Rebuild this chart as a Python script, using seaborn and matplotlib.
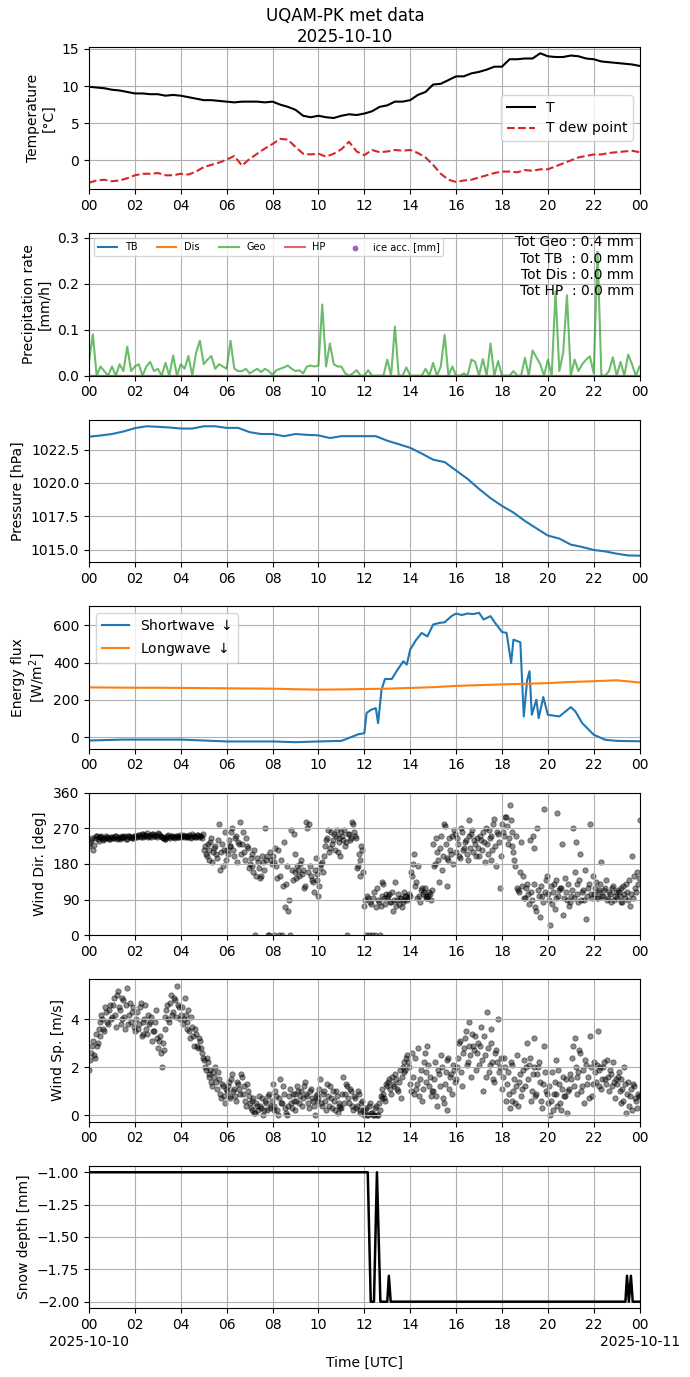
import numpy as np
import pandas as pd
import matplotlib
matplotlib.use("Agg")
import matplotlib.pyplot as plt
import seaborn as sns


# --------------------------------------------------
# Data
# --------------------------------------------------

day = pd.Timestamp("2025-10-10")

# temperature, every 20 min
temp_c = [
    9.9, 9.8, 9.7, 9.5, 9.4, 9.2, 9.0, 9.0, 8.9, 8.9, 8.7, 8.8,
    8.7, 8.5, 8.3, 8.1, 8.1, 8.0, 7.9, 7.8, 7.9, 7.9, 7.9, 7.8,
    7.9, 7.5, 7.2, 6.8, 6.0, 5.8, 6.0, 5.8, 5.7, 6.0, 6.2, 6.1,
    6.3, 6.6, 7.2, 7.4, 7.9, 7.9, 8.1, 8.8, 9.2, 10.2, 10.3, 10.8,
    11.3, 11.3, 11.7, 11.9, 12.2, 12.6, 12.6, 13.6, 13.6, 13.7, 13.7, 14.4,
    14.0, 13.9, 13.9, 14.1, 14.0, 13.7, 13.6, 13.3, 13.2, 13.1, 13.0, 12.9,
    12.7,
]
dew_point_c = [
    -3.0, -2.7, -2.6, -2.8, -2.7, -2.4, -2.0, -1.8, -1.8, -1.7, -2.0, -2.0,
    -1.8, -1.9, -1.5, -0.9, -0.6, -0.3, 0.1, 0.6, -0.7, 0.2, 0.9, 1.6,
    2.2, 2.9, 2.8, 1.8, 0.9, 0.8, 0.9, 0.5, 0.9, 1.5, 2.5, 1.2,
    0.7, 1.4, 1.1, 1.2, 1.4, 1.3, 1.4, 1.0, 0.4, -0.6, -1.8, -2.6,
    -2.9, -2.7, -2.6, -2.3, -2.0, -1.7, -1.5, -1.5, -1.6, -1.3, -1.4, -1.2,
    -1.2, -0.8, -0.4, 0.0, 0.4, 0.6, 0.8, 0.8, 1.0, 1.1, 1.2, 1.3,
    1.1,
]

# precipitation rate, every 10 min
geo_rate = [
    0.03, 0.09, 0.0, 0.02, 0.01, 0.0,
    0.02, 0.0, 0.025, 0.01, 0.063, 0.01,
    0.02, 0.025, 0.0, 0.02, 0.03, 0.01,
    0.015, 0.0, 0.028, 0.0, 0.044, 0.0,
    0.025, 0.015, 0.043, 0.0, 0.05, 0.076,
    0.025, 0.035, 0.043, 0.015, 0.025, 0.02,
    0.015, 0.076, 0.015, 0.01, 0.01, 0.015,
    0.005, 0.01, 0.015, 0.008, 0.015, 0.01,
    0.002, 0.012, 0.015, 0.018, 0.022, 0.015,
    0.01, 0.012, 0.005, 0.02, 0.022, 0.02,
    0.022, 0.155, 0.02, 0.07, 0.025, 0.02,
    0.02, 0.005, 0.0, 0.005, 0.012, 0.0,
    0.0, 0.012, 0.0, 0.0, 0.0, 0.0,
    0.035, 0.0, 0.107, 0.0, 0.0, 0.018,
    0.0, 0.0, 0.0, 0.0, 0.015, 0.0,
    0.028, 0.0, 0.02, 0.089, 0.0, 0.02,
    0.0, 0.0, 0.005, 0.0, 0.035, 0.03,
    0.0, 0.036, 0.0, 0.07, 0.0, 0.032,
    0.0, 0.0, 0.0, 0.01, 0.0, 0.0,
    0.039, 0.0, 0.055, 0.04, 0.025, 0.0,
    0.035, 0.0, 0.183, 0.01, 0.05, 0.175,
    0.0, 0.035, 0.01, 0.025, 0.035, 0.042,
    0.005, 0.27, 0.0, 0.0, 0.01, 0.04,
    0.0, 0.03, 0.0, 0.046, 0.025, 0.0,
    0.02,
]
tb_rate = [0.0] * 25
dis_rate = [0.0] * 25
hp_rate = [0.0] * 25
ice_hours = []
ice_mm = []
totals_text = "Tot Geo : 0.4 mm\nTot TB  : 0.0 mm\nTot Dis : 0.0 mm\nTot HP  : 0.0 mm"

# pressure, every 30 min
pressure_hpa = [
    1023.46, 1023.55, 1023.66, 1023.85, 1024.1, 1024.24, 1024.2, 1024.15,
    1024.07, 1024.07, 1024.24, 1024.24, 1024.12, 1024.12, 1023.8, 1023.66,
    1023.66, 1023.5, 1023.66, 1023.6, 1023.56, 1023.36, 1023.5, 1023.5,
    1023.5, 1023.5, 1023.16, 1022.9, 1022.63, 1022.2, 1021.74, 1021.56,
    1020.93, 1020.3, 1019.55, 1018.86, 1018.28, 1017.78, 1017.15, 1016.6,
    1016.06, 1015.83, 1015.38, 1015.2, 1014.98, 1014.87, 1014.7, 1014.57,
    1014.55,
]

# radiation
sw_hours = [
    0, 1.5, 4, 6, 8, 9, 10, 11, 11.5, 11.75,
    12, 12.1, 12.3, 12.5, 12.6, 12.75, 12.9, 13.2, 13.4, 13.7,
    13.85, 14, 14.25, 14.5, 14.75, 15, 15.25, 15.5, 15.8, 16,
    16.25, 16.5, 16.75, 17, 17.2, 17.5, 17.7, 18, 18.2, 18.4,
    18.5, 18.8, 18.95, 19.1, 19.2, 19.3, 19.5, 19.6, 19.8, 20,
    20.5, 21, 21.2, 21.5, 22, 22.5, 23, 24,
]
shortwave = [
    -18, -13, -13, -23, -23, -27, -23, -20, 4, 16,
    21, 130, 147, 156, 75, 254, 312, 312, 353, 407,
    389, 470, 520, 559, 540, 604, 612, 616, 649, 663,
    655, 663, 660, 667, 631, 649, 613, 564, 559, 398,
    523, 509, 111, 308, 353, 120, 201, 102, 215, 120,
    111, 161, 138, 75, 13, -14, -20, -22,
]
# hourly
longwave = [
    267, 266, 265, 265, 264, 263, 262, 261, 260, 257, 255, 256, 258,
    260, 264, 268, 275, 279, 283, 286, 290, 296, 300, 305, 293,
]

# wind, every 5 min from 00:00
wind_dir = [
    225, 240, 215, 245, 250, 238, 248, 245, 242, 250, 246, 244,
    248, 245, 250, 246, 243, 249, 247, 252, 244, 250, 248, 246,
    251, 247, 253, 249, 255, 250, 252, 248, 254, 256, 250, 253,
    258, 252, 249, 245, 243, 250, 247, 252, 248, 246, 251, 249,
    248, 253, 250, 247, 252, 249, 255, 251, 248, 253, 250, 246,
    215, 205, 230, 190, 245, 210, 225, 195, 280, 210, 175, 260,
    215, 240, 225, 270, 200, 250, 235, 285, 230, 210, 245, 220,
    180, 205, 160, 0, 195, 170, 150, 185, 270, 200, 0, 190,
    200, 0, 175, 215, 150, 0, 235, 130, 60, 0, 165, 255,
    160, 175, 150, 190, 165, 125, 270, 280, 150, 135, 165, 140,
    100, 170, 185, 200, 240, 265, 220, 230, 255, 250, 210, 245,
    260, 240, 225, 0, 255, 245, 280, 250, 170, 205, 150, 215,
    75, 0, 95, 85, 0, 110, 70, 90, 0, 100, 130, 80,
    95, 105, 85, 60, 135, 90, 80, 95, 85, 90, 100, 95,
    100, 150, 205, 135, 175, 85, 120, 110, 100, 95, 110, 90,
    230, 180, 210, 135, 250, 200, 275, 125, 190, 215, 250, 265,
    210, 230, 195, 260, 220, 240, 190, 290, 255, 210, 230, 245,
    200, 240, 260, 185, 230, 265, 250, 215, 295, 175, 255, 120,
    280, 250, 300, 230, 330, 260, 210, 175, 120, 110, 235, 150,
    95, 130, 80, 110, 250, 220, 60, 115, 45, 100, 320, 140,
    105, 25, 80, 130, 95, 310, 115, 120, 50, 145, 90, 75,
    100, 270, 160, 130, 85, 205, 110, 90, 40, 120, 280, 95,
    105, 135, 95, 115, 185, 100, 120, 90, 110, 85, 125, 100,
    95, 110, 120, 85, 105, 130, 90, 75, 200, 150, 110, 130,
    290,
]
wind_speed = [
    1.9, 2.6, 3.1, 2.4, 2.9, 3.6, 3.3, 4.0, 3.5, 4.3, 3.8, 4.6,
    4.1, 4.9, 3.7, 5.2, 4.4, 4.0, 4.8, 3.6, 5.3, 4.2, 3.9, 4.5,
    3.5, 4.3, 3.8, 4.7, 3.4, 4.0, 3.6, 4.2, 3.9, 3.1, 3.5, 4.4,
    2.8, 3.3, 2.0, 2.7, 4.1, 4.6, 3.9, 5.0, 4.3, 4.8, 5.4, 4.5,
    4.2, 3.8, 4.9, 3.6, 4.4, 3.2, 3.7, 2.9, 3.4, 2.8, 3.1, 2.6,
    2.3, 1.9, 2.2, 1.6, 1.4, 1.8, 2.0, 1.1, 1.5, 0.7, 1.2, 0.5,
    1.0, 1.4, 0.8, 1.7, 1.1, 0.6, 1.3, 0.9, 1.6, 1.2, 0.4, 1.0,
    0.5, 0.2, 0.7, 0.1, 0.4, 0.8, 0.3, 0.0, 0.6, 0.2, 0.9, 0.4,
    1.3, 0.2, 0.8, 0.0, 1.5, 0.5, 0.9, 0.1, 0.4, 1.1, 0.3, 0.6,
    0.9, 1.2, 0.5, 1.0, 0.7, 1.4, 0.8, 0.3, 1.1, 0.6, 0.0, 0.9,
    0.7, 1.5, 0.4, 1.0, 0.2, 0.8, 1.2, 0.3, 0.6, 1.0, 0.1, 0.5,
    0.3, 1.6, 0.9, 1.2, 0.5, 1.0, 0.2, 0.7, 0.4, 0.9, 0.1, 0.6,
    0.0, 0.3, 0.0, 0.5, 0.1, 0.0, 0.4, 0.0, 0.2, 0.7, 0.9, 0.6,
    1.2, 1.5, 0.9, 1.3, 1.7, 1.1, 1.4, 0.7, 2.0, 1.8, 2.4, 2.2,
    1.3, 2.6, 0.9, 1.1, 2.8, 1.5, 0.6, 2.2, 1.8, 2.9, 1.2, 0.8,
    1.0, 2.2, 0.4, 1.7, 2.5, 0.7, 1.3, 0.2, 2.4, 1.6, 0.9, 1.9,
    1.5, 2.4, 3.1, 1.2, 2.8, 3.5, 2.2, 3.9, 1.6, 2.9, 3.3, 2.6,
    2.1, 3.7, 1.0, 2.5, 4.3, 1.8, 3.0, 2.2, 1.4, 2.7, 4.0, 2.0,
    1.1, 2.4, 0.6, 1.8, 0.3, 2.1, 1.0, 0.5, 2.5, 1.4, 0.8, 1.9,
    1.2, 3.0, 2.1, 0.6, 1.7, 3.2, 0.9, 2.0, 1.4, 0.3, 2.9, 1.0,
    0.5, 0.0, 1.8, 0.9, 2.3, 0.4, 1.3, 0.2, 1.6, 0.8, 0.1, 1.1,
    1.5, 2.9, 3.2, 0.9, 1.8, 2.6, 1.2, 0.5, 2.1, 1.6, 3.3, 0.8,
    2.2, 1.4, 3.5, 1.9, 1.1, 2.0, 1.5, 2.3, 1.0, 1.7, 2.2, 0.7,
    1.3, 1.8, 0.5, 1.1, 2.0, 0.1, 1.4, 0.8, 0.2, 1.2, 0.6, 0.9,
    0.8,
]

# wind, every 5 min from 00:02:30
wind_dir_b = [
    232, 245, 228, 250, 243, 247, 251, 240, 246, 249, 243, 247,
    246, 251, 244, 249, 245, 252, 248, 243, 250, 247, 245, 251,
    249, 254, 250, 257, 248, 253, 259, 251, 249, 255, 252, 247,
    255, 250, 246, 242, 248, 253, 245, 250, 247, 252, 249, 254,
    250, 247, 252, 248, 254, 246, 251, 249, 253, 247, 252, 255,
    225, 200, 215, 235, 185, 220, 205, 240, 165, 230, 215, 190,
    205, 225, 260, 215, 245, 185, 230, 205, 260, 190, 225, 170,
    195, 175, 215, 150, 185, 145, 200, 165, 190, 0, 210, 180,
    185, 220, 145, 0, 190, 125, 70, 175, 90, 265, 140, 205,
    145, 165, 180, 155, 120, 285, 160, 175, 140, 110, 195, 155,
    125, 180, 160, 225, 245, 210, 260, 240, 215, 265, 235, 200,
    250, 265, 235, 255, 240, 285, 260, 245, 175, 190, 225, 160,
    90, 100, 0, 80, 95, 0, 120, 85, 75, 135, 95, 105,
    100, 85, 110, 90, 75, 105, 95, 70, 110, 100, 90, 105,
    160, 180, 125, 95, 100, 115, 105, 120, 95, 100, 105, 115,
    175, 245, 190, 220, 165, 280, 230, 195, 245, 205, 180, 255,
    245, 200, 270, 215, 235, 205, 250, 220, 265, 240, 200, 220,
    250, 215, 235, 270, 205, 245, 190, 280, 225, 260, 235, 200,
    260, 300, 275, 245, 290, 225, 190, 250, 115, 160, 125, 95,
    120, 105, 240, 90, 130, 70, 270, 100, 125, 85, 110, 150,
    90, 125, 110, 65, 140, 100, 120, 230, 95, 110, 130, 85,
    115, 95, 235, 105, 140, 90, 115, 165, 100, 130, 105, 150,
    120, 95, 110, 130, 100, 115, 140, 95, 105, 120, 90, 110,
    115, 100, 85, 125, 95, 110, 140, 105, 95, 120, 160, 145,
]
wind_speed_b = [
    2.3, 2.9, 2.5, 3.4, 3.0, 3.9, 4.2, 3.6, 4.5, 3.9, 4.4, 4.0,
    4.6, 4.2, 5.0, 4.5, 3.8, 4.9, 4.1, 4.6, 3.8, 4.7, 4.3, 3.7,
    4.0, 3.6, 4.5, 3.3, 3.9, 4.6, 3.4, 3.8, 4.1, 3.5, 3.9, 3.2,
    3.1, 2.6, 3.0, 3.6, 4.4, 4.0, 4.7, 4.2, 4.9, 4.1, 4.6, 4.0,
    4.5, 4.0, 4.2, 3.9, 3.5, 4.1, 3.3, 3.6, 2.9, 3.2, 2.8, 2.4,
    2.0, 2.4, 1.7, 1.9, 1.2, 1.6, 1.4, 1.8, 0.9, 1.3, 0.8, 1.1,
    1.2, 0.7, 1.5, 1.0, 0.8, 1.4, 1.1, 1.7, 0.9, 0.6, 1.3, 0.8,
    0.3, 0.6, 0.1, 0.5, 0.2, 0.4, 0.7, 0.2, 0.5, 0.8, 0.3, 0.6,
    0.4, 1.0, 0.2, 0.7, 0.5, 1.2, 0.3, 0.0, 0.8, 0.5, 0.9, 0.2,
    0.6, 1.0, 0.8, 0.4, 1.2, 0.9, 0.5, 1.0, 0.7, 0.4, 0.8, 0.6,
    1.1, 0.5, 0.9, 0.6, 1.3, 0.4, 0.7, 1.0, 0.2, 0.8, 0.4, 0.3,
    0.9, 0.5, 1.3, 0.7, 1.1, 0.4, 0.8, 0.3, 1.0, 0.2, 0.5, 0.2,
    0.2, 0.0, 0.4, 0.1, 0.0, 0.3, 0.0, 0.5, 0.8, 1.1, 0.7, 1.3,
    1.4, 1.1, 1.6, 1.2, 1.5, 1.0, 1.9, 1.6, 2.2, 1.9, 2.5, 2.0,
    1.0, 1.6, 2.4, 1.3, 0.8, 1.9, 1.1, 2.6, 1.4, 2.1, 1.6, 1.0,
    1.5, 0.8, 1.9, 1.2, 2.0, 0.5, 1.8, 2.3, 1.1, 1.7, 2.1, 1.4,
    2.0, 3.0, 1.8, 2.6, 3.2, 2.1, 2.9, 2.5, 3.4, 2.7, 1.9, 3.0,
    2.9, 2.3, 3.3, 1.6, 2.8, 2.1, 3.6, 1.5, 2.6, 2.2, 1.8, 2.4,
    1.6, 2.0, 1.3, 0.9, 2.2, 0.6, 1.5, 1.2, 0.4, 1.7, 1.1, 2.3,
    2.0, 1.5, 2.4, 1.0, 2.0, 0.8, 1.7, 2.2, 0.6, 1.3, 1.8, 0.9,
    1.2, 0.6, 0.2, 1.4, 0.9, 1.9, 0.5, 1.1, 0.8, 1.5, 1.0, 1.7,
    2.4, 1.2, 2.0, 1.6, 2.7, 1.0, 1.9, 2.3, 1.3, 0.7, 2.0, 1.3,
    1.8, 2.1, 1.2, 2.0, 1.5, 2.2, 1.3, 1.6, 1.9, 1.2, 1.4, 1.5,
    1.6, 1.0, 1.5, 0.6, 1.3, 0.9, 0.4, 1.1, 1.3, 0.7, 0.3, 0.8,
]

# snow depth
snow_hours = [0, 12.15, 12.28, 12.42, 12.55, 12.7, 13.0, 13.07, 13.15,
              23.38, 23.45, 23.53, 23.62, 23.7, 24]
snow_mm = [-1.0, -1.0, -2.0, -2.0, -1.0, -2.0, -2.0, -1.8, -2.0,
           -2.0, -1.8, -2.0, -1.8, -2.0, -2.0]


def at_hours(hours):
    return day + pd.to_timedelta(np.asarray(hours, dtype=float), unit="h")


def grid(values, step_hours, start=0.0):
    return at_hours(start + np.arange(len(values)) * step_hours)


# --------------------------------------------------
# Figure
# --------------------------------------------------

fig, axes = plt.subplots(7, 1, figsize=(6.9, 13.77), dpi=100)
fig.subplots_adjust(left=0.129, right=0.927, top=0.966, bottom=0.05, hspace=0.31)
fig.suptitle("UQAM-PK met data\n2025-10-10", y=0.995, fontsize=12)

# temperature
ax = axes[0]
sns.lineplot(x=grid(temp_c, 1 / 3), y=temp_c, ax=ax, color="black",
             linewidth=1.5, label="T")
sns.lineplot(x=grid(dew_point_c, 1 / 3), y=dew_point_c, ax=ax,
             color="tab:red", linestyle="--", linewidth=1.5, label="T dew point")
ax.set_yticks([0, 5, 10, 15])
ax.set_ylabel("Temperature\n[°C]")
ax.legend(loc="center right")

# precipitation
ax = axes[1]
sns.lineplot(x=grid(tb_rate, 1), y=tb_rate, ax=ax, color="tab:blue", label="TB")
sns.lineplot(x=grid(dis_rate, 1), y=dis_rate, ax=ax, color="tab:orange", label="Dis")
sns.lineplot(x=grid(geo_rate, 1 / 6), y=geo_rate, ax=ax, color="tab:green",
             alpha=0.7, label="Geo")
sns.lineplot(x=grid(hp_rate, 1), y=hp_rate, ax=ax, color="tab:red",
             alpha=0.7, label="HP")
ax.scatter(at_hours(ice_hours), ice_mm, color="tab:purple", s=10,
           label="ice acc. [mm]")
ax.set_ylim(0, 0.31)
ax.set_yticks([0.0, 0.1, 0.2, 0.3])
ax.set_ylabel("Precipitation rate\n[mm/h]")
ax.legend(loc="upper left", ncol=5, fontsize=7)
ax.text(0.99, 0.985, totals_text, transform=ax.transAxes, ha="right",
        va="top", multialignment="right", fontsize=10)

# pressure
ax = axes[2]
sns.lineplot(x=grid(pressure_hpa, 0.5), y=pressure_hpa, ax=ax, color="tab:blue")
ax.set_yticks([1015.0, 1017.5, 1020.0, 1022.5])
ax.set_ylabel("Pressure [hPa]")

# radiation
ax = axes[3]
sns.lineplot(x=at_hours(sw_hours), y=shortwave, ax=ax, color="tab:blue",
             label="Shortwave $\\downarrow$")
sns.lineplot(x=grid(longwave, 1), y=longwave, ax=ax, color="tab:orange",
             label="Longwave $\\downarrow$")
ax.set_yticks([0, 200, 400, 600])
ax.set_ylabel("Energy flux\n[W/m$^2$]")
ax.legend(loc="upper left")

# wind direction and speed
dot_style = dict(color="black", alpha=0.45, s=15, edgecolor="black", linewidth=0.6)
ax = axes[4]
sns.scatterplot(x=grid(wind_dir, 1 / 12), y=wind_dir, ax=ax, **dot_style)
sns.scatterplot(x=grid(wind_dir_b, 1 / 12, 1 / 24), y=wind_dir_b, ax=ax, **dot_style)
ax.set_ylim(0, 360)
ax.set_yticks([0, 90, 180, 270, 360])
ax.set_ylabel("Wind Dir. [deg]")

ax = axes[5]
sns.scatterplot(x=grid(wind_speed, 1 / 12), y=wind_speed, ax=ax, **dot_style)
sns.scatterplot(x=grid(wind_speed_b, 1 / 12, 1 / 24), y=wind_speed_b, ax=ax, **dot_style)
ax.set_yticks([0, 2, 4])
ax.set_ylabel("Wind Sp. [m/s]")

# snow depth
ax = axes[6]
sns.lineplot(x=at_hours(snow_hours), y=snow_mm, ax=ax, color="black", linewidth=1.8)
ax.set_yticks([-1.0, -1.25, -1.5, -1.75, -2.0])
ax.set_ylabel("Snow depth [mm]")

# shared time axis
ticks = pd.date_range(day, day + pd.Timedelta(days=1), freq="2h")
hour_labels = [t.strftime("%H") for t in ticks]
for ax in axes:
    ax.set_xlim(ticks[0], ticks[-1])
    ax.set_xticks(ticks)
    ax.set_xticklabels(hour_labels)
    ax.set_xlabel("")
    ax.grid(True)

# day labels under the first and last tick of the bottom panel
for xpos, stamp in [(0, ticks[0]), (1, ticks[-1])]:
    axes[-1].annotate(stamp.strftime("%Y-%m-%d"), xy=(xpos, 0),
                      xycoords="axes fraction", xytext=(0, -19),
                      textcoords="offset points", ha="center", va="top")
axes[-1].set_xlabel("Time [UTC]", labelpad=17)

fig.savefig("out.png", dpi=100)
